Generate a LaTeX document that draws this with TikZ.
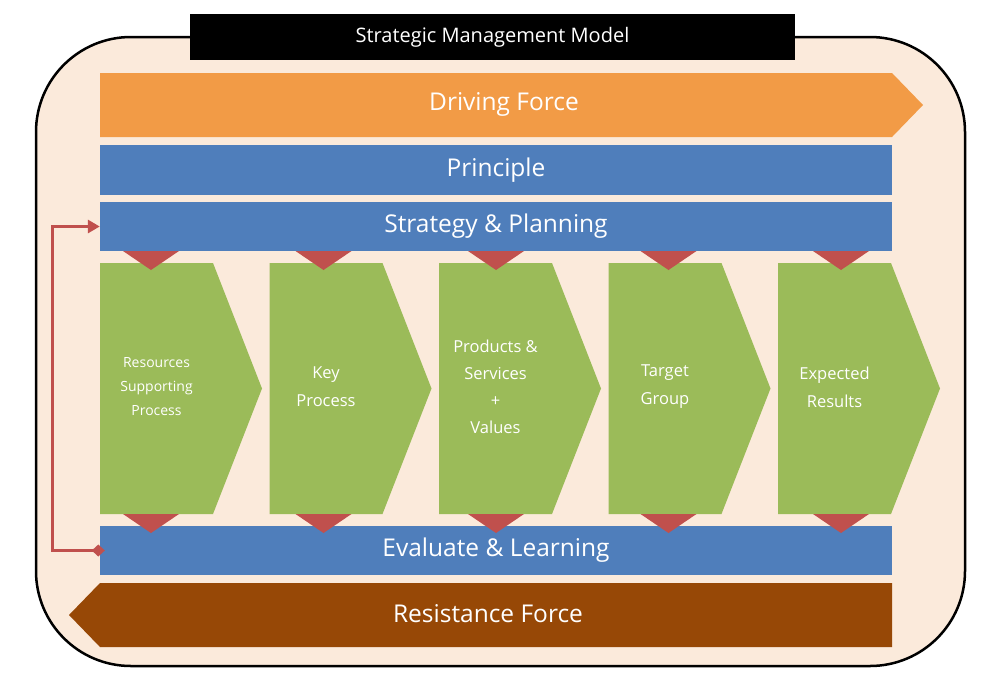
\documentclass[tikz,border=0pt]{standalone}
\usepackage{fontspec}
\setmainfont{Open Sans}
\usetikzlibrary{arrows.meta}

\definecolor{peach}{HTML}{FBEADB}
\definecolor{driveorange}{HTML}{F29B46}
\definecolor{barblue}{HTML}{4F7EBB}
\definecolor{leafgreen}{HTML}{9BBB59}
\definecolor{tipred}{HTML}{C0504D}
\definecolor{resistbrown}{HTML}{974806}

\begin{document}
\begin{tikzpicture}[x=1pt,y=-1pt]
\useasboundingbox (0,0) rectangle (1006,694);

        \draw[line width=2.5pt, fill=peach, rounded corners=95pt] (36,37) rectangle (965,666);

        \node[fill=black, text=white, inner sep=0pt, minimum width=605pt, minimum height=46pt,
              font=\fontsize{20}{24}\selectfont] (title) at (492.5,37) {Strategic Management Model};

        \fill[driveorange] (100,73) -- (892,73) -- (923,105) -- (892,137) -- (100,137) -- cycle;
        \fill[resistbrown] (100,583) -- (892,583) -- (892,647) -- (100,647) -- (69,615) -- cycle;

        \begin{scope}[every node/.style={text=white, font=\fontsize{24.5}{28}\selectfont}]
          \node (drive)  at (504,104) {Driving Force};
          \node (resist) at (488,614) {Resistance Force};
        \end{scope}

        \begin{scope}[every node/.style={fill=barblue, text=white, inner sep=0pt, minimum width=792pt,
                      minimum height=49pt, font=\fontsize{24.5}{28}\selectfont}]
          \node (principle) at (496,170)   [minimum height=50pt] {Principle};
          \node (strategy)  at (496,226.5) {Strategy \& Planning};
          \node (evaluate)  at (496,550.5) {Evaluate \& Learning};
        \end{scope}

        \foreach \i/\sz/\sk/\lbl in {0/14/24/{Resources\\Supporting\\Process},
                                     1/16.5/28/{Key\\Process},
                                     2/16.5/27/{Products \&\\Services\\+\\Values},
                                     3/16.5/28/{Target\\Group},
                                     4/16.5/28/{Expected\\Results}} {
          \fill[leafgreen] ({100+169.5*\i},263) -- ++(113,0) -- ++(49,125.5) -- ++(-49,125.5)
                           -- ++(-113,0) -- cycle;
          \node[text=white, align=center, font=\fontsize{\sz}{\sk}\selectfont] (step\i)
               at ({156.5+169.5*\i},387) {\lbl};
        }

        \foreach \i in {0,...,4} {
          \fill[tipred] ({123+172.5*\i},251) -- ++(56,0) -- ++(-28,19) -- cycle;
          \fill[tipred] ({123+172.5*\i},514) -- ++(56,0) -- ++(-28,19) -- cycle;
        }

        \draw[tipred, line width=3pt, shorten <=-5pt,
              {Diamond[length=13pt,width=12pt]}-{Triangle[length=12pt,width=13pt]}]
             (evaluate.west) -- ++(-47,0) |- (strategy.west);

      \end{tikzpicture}
\end{document}
